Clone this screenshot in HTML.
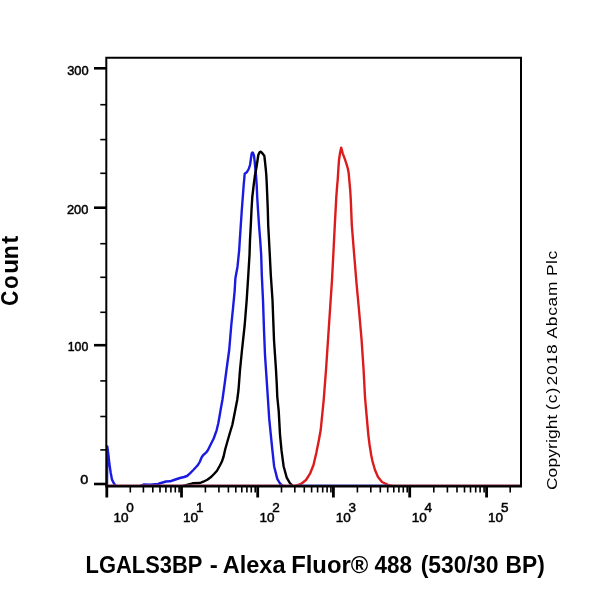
<!DOCTYPE html>
<html><head><meta charset="utf-8"><title>LGALS3BP flow cytometry</title>
<style>html,body{margin:0;padding:0;background:#fff;width:600px;height:600px;overflow:hidden}svg{display:block;filter:blur(0.35px)}</style>
</head><body>
<svg width="600" height="600" viewBox="0 0 600 600">
<rect width="600" height="600" fill="#fff"/>
<defs><clipPath id="pc"><rect x="100" y="50" width="430" height="435.6"/></clipPath></defs>
<g fill="none" stroke-width="2.4" stroke-linejoin="round" stroke-linecap="round" clip-path="url(#pc)">
<polyline points="107.0,486.2 107.3,446.5 108.5,455.3 109.4,464.0 110.7,472.7 112.0,479.6 113.7,483.0 116.0,486.2 140.0,486.2 144.0,484.4 150.0,484.6 158.0,484.0 161.0,483.0 166.0,481.5 170.0,481.3 174.0,480.0 180.0,478.0 184.0,477.0 187.0,476.0 190.0,473.3 193.3,470.0 197.7,465.3 199.7,462.0 201.7,457.3 203.3,455.0 206.0,452.7 208.0,450.0 210.8,444.3 213.7,438.5 216.6,430.3 218.3,423.3 219.7,415.2 220.9,408.2 222.4,400.0 224.9,382.0 227.0,366.0 229.2,350.0 231.3,325.0 233.0,308.3 234.6,291.7 235.4,278.3 237.5,266.7 239.2,250.0 239.8,240.0 240.8,225.0 241.8,210.0 242.8,197.0 243.7,185.0 244.3,178.3 244.7,173.7 246.7,172.3 248.7,169.0 250.0,165.0 251.0,158.3 251.7,153.5 252.4,152.5 253.0,153.0 254.0,155.7 254.7,161.7 255.3,168.3 256.0,175.0 256.7,185.0 257.2,197.0 258.0,210.0 259.0,225.0 260.2,240.0 261.2,255.0 261.8,275.0 263.0,300.0 264.0,330.0 265.0,355.0 266.0,370.0 267.0,385.0 268.0,400.0 269.2,418.7 270.8,434.6 272.4,450.4 274.1,466.2 277.3,478.9 280.0,483.5 283.0,486.2 520.0,486.2" stroke="#1a1ae0"/>
<polyline points="107.0,486.2 182.0,486.2 192.7,483.3 200.0,483.0 203.3,481.7 207.3,479.7 210.7,477.3 214.0,474.0 217.0,470.7 218.2,468.5 219.9,465.5 221.8,461.8 223.6,456.5 225.1,449.8 227.4,441.5 230.0,432.5 232.3,425.0 233.8,417.5 235.6,408.2 237.2,400.0 238.5,390.0 240.0,370.0 242.0,350.0 244.7,325.0 246.7,300.0 248.3,275.0 249.5,255.0 250.0,240.0 250.8,225.0 251.5,210.0 252.3,197.0 253.7,185.0 255.0,175.0 256.3,168.3 257.3,161.7 258.3,155.0 259.7,152.0 260.7,151.6 262.7,153.7 264.3,155.7 265.0,161.7 265.7,168.3 266.3,175.0 266.8,185.0 267.3,197.0 267.8,210.0 268.2,225.0 269.0,240.0 269.8,255.0 270.8,275.0 272.5,300.0 274.0,340.0 275.0,355.0 276.0,370.0 276.8,385.0 277.3,397.0 278.7,410.8 280.0,434.6 281.5,450.4 283.6,466.2 286.6,477.3 289.8,483.0 293.0,486.2 520.0,486.2" stroke="#000"/>
<polyline points="107.0,486.2 294.5,486.2 301.0,484.0 306.0,480.0 310.2,473.3 313.5,465.0 316.4,452.5 318.9,440.0 320.7,430.0 322.2,415.0 323.7,400.0 326.0,370.0 328.0,340.0 330.0,310.0 332.0,280.0 333.3,255.0 334.8,225.0 336.3,197.0 337.2,185.0 337.7,180.0 338.3,170.0 339.0,160.0 340.0,153.3 341.2,147.6 342.7,153.3 344.7,158.7 346.3,163.3 347.7,168.0 348.7,173.3 349.3,180.0 350.2,190.0 350.8,200.0 351.8,225.0 354.2,255.0 356.5,283.0 359.0,310.0 361.6,340.0 363.6,370.0 365.0,397.0 366.2,410.8 368.3,434.6 369.6,445.0 371.2,455.0 372.4,461.0 375.0,470.0 378.0,477.0 382.0,482.0 388.0,484.8 393.0,486.2 520.0,486.2" stroke="#dc1c1c"/>
</g>
<path d="M106.3,486.3 V57.8 H521.0 V486.3" fill="none" stroke="#000" stroke-width="2.0"/>
<line x1="105.3" y1="486.3" x2="522.0" y2="486.3" stroke="#000" stroke-width="2.4"/>
<g stroke-width="1.2" opacity="0.6"><line x1="108" y1="484.7" x2="300" y2="484.7" stroke="#904060"/><line x1="300" y1="484.7" x2="388" y2="484.7" stroke="#4040a0"/><line x1="388" y1="484.7" x2="520" y2="484.7" stroke="#904060"/></g>
<line x1="94" y1="68.3" x2="106.3" y2="68.3" stroke="#000" stroke-width="2.6"/>
<line x1="94" y1="207.7" x2="106.3" y2="207.7" stroke="#000" stroke-width="2.6"/>
<line x1="94" y1="345.2" x2="106.3" y2="345.2" stroke="#000" stroke-width="2.6"/>
<line x1="94" y1="484.0" x2="106.3" y2="484.0" stroke="#000" stroke-width="2.6"/>
<line x1="100.3" y1="104.7" x2="106.3" y2="104.7" stroke="#000" stroke-width="1.6"/>
<line x1="100.3" y1="139.6" x2="106.3" y2="139.6" stroke="#000" stroke-width="1.6"/>
<line x1="100.3" y1="173.3" x2="106.3" y2="173.3" stroke="#000" stroke-width="1.6"/>
<line x1="100.3" y1="243.7" x2="106.3" y2="243.7" stroke="#000" stroke-width="1.6"/>
<line x1="100.3" y1="277.3" x2="106.3" y2="277.3" stroke="#000" stroke-width="1.6"/>
<line x1="100.3" y1="312.3" x2="106.3" y2="312.3" stroke="#000" stroke-width="1.6"/>
<line x1="100.3" y1="380.9" x2="106.3" y2="380.9" stroke="#000" stroke-width="1.6"/>
<line x1="100.3" y1="416.5" x2="106.3" y2="416.5" stroke="#000" stroke-width="1.6"/>
<line x1="100.3" y1="449.9" x2="106.3" y2="449.9" stroke="#000" stroke-width="1.6"/>
<line x1="106.8" y1="486.3" x2="106.8" y2="497.5" stroke="#000" stroke-width="2.8"/>
<line x1="181.5" y1="486.3" x2="181.5" y2="497.5" stroke="#000" stroke-width="2.8"/>
<line x1="257.7" y1="486.3" x2="257.7" y2="497.5" stroke="#000" stroke-width="2.8"/>
<line x1="333.4" y1="486.3" x2="333.4" y2="497.5" stroke="#000" stroke-width="2.8"/>
<line x1="409.7" y1="486.3" x2="409.7" y2="497.5" stroke="#000" stroke-width="2.8"/>
<line x1="486.6" y1="486.3" x2="486.6" y2="497.5" stroke="#000" stroke-width="2.8"/>
<line x1="130.3" y1="486.3" x2="130.3" y2="492.5" stroke="#000" stroke-width="1.6"/>
<line x1="143.4" y1="486.3" x2="143.4" y2="492.5" stroke="#000" stroke-width="1.6"/>
<line x1="152.8" y1="486.3" x2="152.8" y2="492.5" stroke="#000" stroke-width="1.6"/>
<line x1="160.0" y1="486.3" x2="160.0" y2="492.5" stroke="#000" stroke-width="1.6"/>
<line x1="165.9" y1="486.3" x2="165.9" y2="492.5" stroke="#000" stroke-width="1.6"/>
<line x1="170.9" y1="486.3" x2="170.9" y2="492.5" stroke="#000" stroke-width="1.6"/>
<line x1="175.3" y1="486.3" x2="175.3" y2="492.5" stroke="#000" stroke-width="1.6"/>
<line x1="179.1" y1="486.3" x2="179.1" y2="492.5" stroke="#000" stroke-width="1.6"/>
<line x1="205.4" y1="486.3" x2="205.4" y2="492.5" stroke="#000" stroke-width="1.6"/>
<line x1="218.9" y1="486.3" x2="218.9" y2="492.5" stroke="#000" stroke-width="1.6"/>
<line x1="228.4" y1="486.3" x2="228.4" y2="492.5" stroke="#000" stroke-width="1.6"/>
<line x1="235.8" y1="486.3" x2="235.8" y2="492.5" stroke="#000" stroke-width="1.6"/>
<line x1="241.8" y1="486.3" x2="241.8" y2="492.5" stroke="#000" stroke-width="1.6"/>
<line x1="246.9" y1="486.3" x2="246.9" y2="492.5" stroke="#000" stroke-width="1.6"/>
<line x1="251.3" y1="486.3" x2="251.3" y2="492.5" stroke="#000" stroke-width="1.6"/>
<line x1="255.2" y1="486.3" x2="255.2" y2="492.5" stroke="#000" stroke-width="1.6"/>
<line x1="281.5" y1="486.3" x2="281.5" y2="492.5" stroke="#000" stroke-width="1.6"/>
<line x1="294.8" y1="486.3" x2="294.8" y2="492.5" stroke="#000" stroke-width="1.6"/>
<line x1="304.3" y1="486.3" x2="304.3" y2="492.5" stroke="#000" stroke-width="1.6"/>
<line x1="311.6" y1="486.3" x2="311.6" y2="492.5" stroke="#000" stroke-width="1.6"/>
<line x1="317.6" y1="486.3" x2="317.6" y2="492.5" stroke="#000" stroke-width="1.6"/>
<line x1="322.7" y1="486.3" x2="322.7" y2="492.5" stroke="#000" stroke-width="1.6"/>
<line x1="327.1" y1="486.3" x2="327.1" y2="492.5" stroke="#000" stroke-width="1.6"/>
<line x1="330.9" y1="486.3" x2="330.9" y2="492.5" stroke="#000" stroke-width="1.6"/>
<line x1="357.4" y1="486.3" x2="357.4" y2="492.5" stroke="#000" stroke-width="1.6"/>
<line x1="370.8" y1="486.3" x2="370.8" y2="492.5" stroke="#000" stroke-width="1.6"/>
<line x1="380.3" y1="486.3" x2="380.3" y2="492.5" stroke="#000" stroke-width="1.6"/>
<line x1="387.7" y1="486.3" x2="387.7" y2="492.5" stroke="#000" stroke-width="1.6"/>
<line x1="393.8" y1="486.3" x2="393.8" y2="492.5" stroke="#000" stroke-width="1.6"/>
<line x1="398.9" y1="486.3" x2="398.9" y2="492.5" stroke="#000" stroke-width="1.6"/>
<line x1="403.3" y1="486.3" x2="403.3" y2="492.5" stroke="#000" stroke-width="1.6"/>
<line x1="407.2" y1="486.3" x2="407.2" y2="492.5" stroke="#000" stroke-width="1.6"/>
<line x1="433.8" y1="486.3" x2="433.8" y2="492.5" stroke="#000" stroke-width="1.6"/>
<line x1="447.4" y1="486.3" x2="447.4" y2="492.5" stroke="#000" stroke-width="1.6"/>
<line x1="457.0" y1="486.3" x2="457.0" y2="492.5" stroke="#000" stroke-width="1.6"/>
<line x1="464.5" y1="486.3" x2="464.5" y2="492.5" stroke="#000" stroke-width="1.6"/>
<line x1="470.5" y1="486.3" x2="470.5" y2="492.5" stroke="#000" stroke-width="1.6"/>
<line x1="475.7" y1="486.3" x2="475.7" y2="492.5" stroke="#000" stroke-width="1.6"/>
<line x1="480.1" y1="486.3" x2="480.1" y2="492.5" stroke="#000" stroke-width="1.6"/>
<line x1="484.1" y1="486.3" x2="484.1" y2="492.5" stroke="#000" stroke-width="1.6"/>
<line x1="510.2" y1="486.3" x2="510.2" y2="492.5" stroke="#000" stroke-width="1.6"/>
<text x="113.4" y="522.4" font-family="'Liberation Sans', Arial, sans-serif" font-size="13.5" font-weight="normal" stroke="#000" stroke-width="0.5">10</text>
<text x="126.3" y="512.4" font-family="'Liberation Sans', Arial, sans-serif" font-size="13.5" font-weight="normal" stroke="#000" stroke-width="0.5">0</text>
<text x="183.1" y="522.4" font-family="'Liberation Sans', Arial, sans-serif" font-size="13.5" font-weight="normal" stroke="#000" stroke-width="0.5">10</text>
<text x="196.0" y="512.4" font-family="'Liberation Sans', Arial, sans-serif" font-size="13.5" font-weight="normal" stroke="#000" stroke-width="0.5">1</text>
<text x="259.4" y="522.4" font-family="'Liberation Sans', Arial, sans-serif" font-size="13.5" font-weight="normal" stroke="#000" stroke-width="0.5">10</text>
<text x="272.3" y="512.4" font-family="'Liberation Sans', Arial, sans-serif" font-size="13.5" font-weight="normal" stroke="#000" stroke-width="0.5">2</text>
<text x="335.7" y="522.4" font-family="'Liberation Sans', Arial, sans-serif" font-size="13.5" font-weight="normal" stroke="#000" stroke-width="0.5">10</text>
<text x="348.6" y="512.4" font-family="'Liberation Sans', Arial, sans-serif" font-size="13.5" font-weight="normal" stroke="#000" stroke-width="0.5">3</text>
<text x="411.7" y="522.4" font-family="'Liberation Sans', Arial, sans-serif" font-size="13.5" font-weight="normal" stroke="#000" stroke-width="0.5">10</text>
<text x="424.6" y="512.4" font-family="'Liberation Sans', Arial, sans-serif" font-size="13.5" font-weight="normal" stroke="#000" stroke-width="0.5">4</text>
<text x="488.09999999999997" y="522.4" font-family="'Liberation Sans', Arial, sans-serif" font-size="13.5" font-weight="normal" stroke="#000" stroke-width="0.5">10</text>
<text x="501.0" y="512.4" font-family="'Liberation Sans', Arial, sans-serif" font-size="13.5" font-weight="normal" stroke="#000" stroke-width="0.5">5</text>
<text y="572.7" font-family="'Liberation Sans', Arial, sans-serif" font-size="23" font-weight="bold"><tspan x="85.60" textLength="116.35" lengthAdjust="spacingAndGlyphs">LGALS3BP</tspan> <tspan x="209.65" textLength="8.06" lengthAdjust="spacingAndGlyphs">-</tspan> <tspan x="222.68" textLength="62.81" lengthAdjust="spacingAndGlyphs">Alexa</tspan> <tspan x="291.23" textLength="77.02" lengthAdjust="spacingAndGlyphs">Fluor®</tspan> <tspan x="374.60" textLength="37.47" lengthAdjust="spacingAndGlyphs">488</tspan> <tspan x="420.70" textLength="77.81" lengthAdjust="spacingAndGlyphs">(530/30</tspan> <tspan x="505.62" textLength="39.18" lengthAdjust="spacingAndGlyphs">BP)</tspan></text>
<text transform="rotate(-90) scale(1.12,1)" y="557.5" font-family="'Liberation Sans', Arial, sans-serif" font-size="15.5" font-weight="normal"><tspan x="-437.61" textLength="67.42" lengthAdjust="spacing">Copyright</tspan> <tspan x="-366.18" textLength="19.94" lengthAdjust="spacing">(c)</tspan> <tspan x="-344.30" textLength="36.75" lengthAdjust="spacing">2018</tspan> <tspan x="-302.23" textLength="50.80" lengthAdjust="spacing">Abcam</tspan> <tspan x="-246.54" textLength="22.53" lengthAdjust="spacing">Plc</tspan></text>
<text transform="rotate(-90)" y="18.3" font-family="'Liberation Sans', Arial, sans-serif" font-size="23" font-weight="bold"><tspan x="-305.70" textLength="14.96" lengthAdjust="spacingAndGlyphs">C</tspan><tspan x="-288.98" textLength="13.71" lengthAdjust="spacingAndGlyphs">o</tspan><tspan x="-273.76" textLength="14.96" lengthAdjust="spacingAndGlyphs">u</tspan><tspan x="-259.30" textLength="14.06" lengthAdjust="spacingAndGlyphs">n</tspan><tspan x="-243.70" textLength="8.00" lengthAdjust="spacingAndGlyphs">t</tspan></text>
<text y="74.6" font-family="'Liberation Sans', Arial, sans-serif" font-size="13" font-weight="normal" stroke="#000" stroke-width="0.5"><tspan x="67.21" textLength="21.49" lengthAdjust="spacingAndGlyphs">300</tspan></text>
<text y="214.3" font-family="'Liberation Sans', Arial, sans-serif" font-size="13" font-weight="normal" stroke="#000" stroke-width="0.5"><tspan x="66.92" textLength="21.38" lengthAdjust="spacingAndGlyphs">200</tspan></text>
<text y="351.4" font-family="'Liberation Sans', Arial, sans-serif" font-size="13" font-weight="normal" stroke="#000" stroke-width="0.5"><tspan x="67.76" textLength="20.51" lengthAdjust="spacingAndGlyphs">100</tspan></text>
<text y="483.9" font-family="'Liberation Sans', Arial, sans-serif" font-size="13" font-weight="normal" stroke="#000" stroke-width="0.5"><tspan x="80.20" textLength="7.96" lengthAdjust="spacingAndGlyphs">0</tspan></text>
</svg>
</body></html>
